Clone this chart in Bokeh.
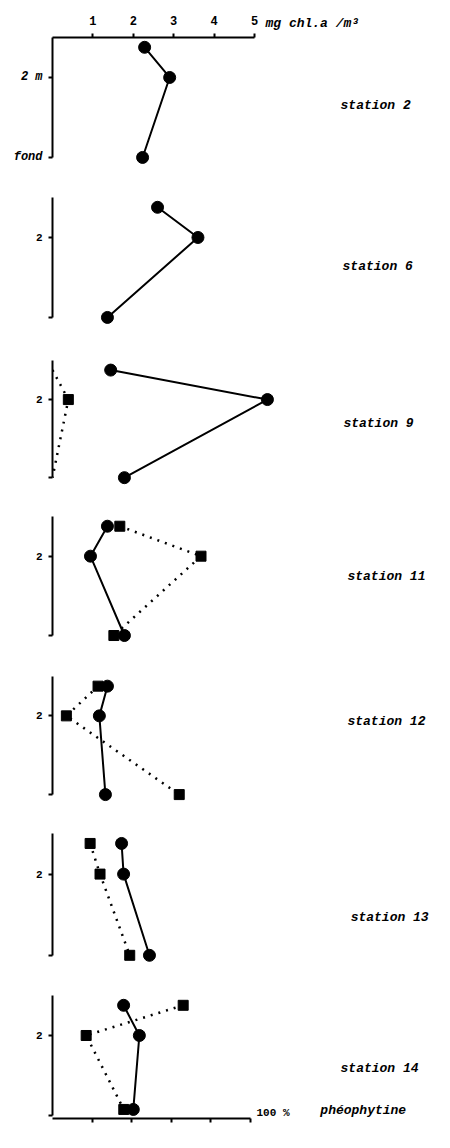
from bokeh.plotting import figure
from bokeh.models import LinearAxis, Range1d, FixedTicker, Label, Title
from bokeh.layouts import column
from bokeh.embed import file_html
from bokeh.resources import INLINE

# ---------------- data ----------------
station_names = ["station 2", "station 6", "station 9", "station 11",
                 "station 12", "station 13", "station 14"]
FOND = 7.3                      # depth of the bottom ("fond") on the depth scale, m
depth_std = [0.0, 2.0, FOND]    # surface, 2 m, fond
depth_st14 = [0.0, 2.0, 6.9]

# chlorophyll a (mg chl.a / m3) at surface, 2 m, bottom
chl_st2 = [2.28, 2.90, 2.23]
chl_st6 = [2.60, 3.60, 1.36]
chl_st9 = [1.44, 5.32, 1.78]
chl_st11 = [1.36, 0.94, 1.78]
chl_st12 = [1.36, 1.16, 1.31]
chl_st13 = [1.71, 1.76, 2.40]
chl_st14 = [1.76, 2.15, 2.00]

# pheophytine (%) at surface, 2 m, bottom
pheo_st9 = [0, 8, 0]
pheo_st11 = [34, 75, 31]
pheo_st12 = [23, 7, 64]
pheo_st13 = [19, 24, 39]
pheo_st14 = [66, 17, 36]

chl_ticks = [1, 2, 3, 4, 5]
pheo_ticks = [20, 40, 60, 80, 100]

panels = [
    (station_names[0], depth_std, chl_st2, None),
    (station_names[1], depth_std, chl_st6, None),
    (station_names[2], depth_std, chl_st9, pheo_st9),
    (station_names[3], depth_std, chl_st11, pheo_st11),
    (station_names[4], depth_std, chl_st12, pheo_st12),
    (station_names[5], depth_std, chl_st13, pheo_st13),
    (station_names[6], depth_st14, chl_st14, pheo_st14),
]

# ---------------- layout / style ----------------
BORDER_L = 52
FRAME_W = 390
W = BORDER_L + FRAME_W
PX_PER_MG = 40.4
PX_PER_PCT = 1.98
TOP_DEPTH = -0.65
fig_h = [168, 160, 160, 160, 160, 160, 168]
border_top = [37, 29, 32, 28, 28, 25, 27]
frame_h = [120, 120, 117, 119, 118, 122, 120]     # axis length (top -> fond)
below_fond = [0.6, 0.6, 0.6, 0.6, 0.6, 0.6, 0.2]  # frame room under fond, m
label_pos = [(7.13, 3.85), (7.18, 3.92), (7.20, 3.65), (7.30, 3.39),
             (7.30, 2.40), (7.38, 4.85), (7.13, 4.18)]
MONO = "Liberation Mono"
BLACK = "#000000"


def style_axis(a, size="11px", style="bold"):
    a.axis_line_width = 2
    a.axis_line_color = BLACK
    a.major_tick_in = 0
    a.major_tick_out = 4
    a.major_tick_line_width = 2
    a.major_tick_line_color = BLACK
    a.minor_tick_in = 0
    a.minor_tick_out = 0
    a.major_label_text_font = MONO
    a.major_label_text_font_style = style
    a.major_label_text_font_size = size
    a.major_label_text_color = BLACK


figs = []
for i, (name, depth, chl, pheo) in enumerate(panels):
    ppm = frame_h[i] / (FOND - TOP_DEPTH)
    fh = int(round(frame_h[i] + below_fond[i] * ppm))
    p = figure(width=W, height=fig_h[i],
               x_range=Range1d(0, FRAME_W / PX_PER_MG),
               y_range=Range1d(FOND + below_fond[i], TOP_DEPTH),
               x_axis_location=None, y_axis_location=None,
               output_backend="svg", toolbar_location=None,
               min_border_left=BORDER_L, min_border_right=0,
               min_border_top=border_top[i],
               min_border_bottom=fig_h[i] - border_top[i] - fh)
    p.extra_x_ranges = {"pheo": Range1d(0, FRAME_W / PX_PER_PCT)}
    p.outline_line_color = None
    p.grid.grid_line_color = None
    p.background_fill_color = "white"
    p.border_fill_color = "white"

    # left depth axis
    if i == 0:
        overrides = {2: "2 m", FOND: "fond"}
        lstyle = "bold italic"
    else:
        overrides = {2: "2", FOND: ""}
        lstyle = "bold"
    ax = LinearAxis(ticker=FixedTicker(ticks=[2, FOND]), bounds=(TOP_DEPTH, FOND),
                    major_label_overrides=overrides)
    style_axis(ax, "11px" if i else "12px", lstyle)
    ax.major_label_standoff = 6
    p.add_layout(ax, "left")

    # pheophytine (dotted, squares)
    if pheo is not None:
        p.line(pheo, depth, x_range_name="pheo", line_color=BLACK,
               line_width=2.5, line_dash="2 6")
        px = [v for v in pheo if v > 0]
        py = [d for v, d in zip(pheo, depth) if v > 0]
        p.scatter(px, py, x_range_name="pheo", marker="square", size=10,
                  fill_color=BLACK, line_color=BLACK)

    # chlorophyll a (solid, circles)
    p.line(chl, depth, line_color=BLACK, line_width=2)
    p.scatter(chl, depth, marker="circle", size=12,
              fill_color=BLACK, line_color=BLACK)

    lx, ly = label_pos[i]
    p.add_layout(Label(x=lx, y=ly, text=name, text_font=MONO,
                       text_font_style="bold italic", text_font_size="13px",
                       text_baseline="middle", text_align="left",
                       text_color=BLACK))

    if i == 0:
        top = LinearAxis(ticker=FixedTicker(ticks=chl_ticks), bounds=(0, 5))
        style_axis(top, "12px", "bold")
        top.major_label_standoff = 9
        p.add_layout(top, "above")
        p.add_layout(Title(text="mg chl.a /m\u00b3", align="left", offset=213,
                           standoff=-36, vertical_align="bottom",
                           text_font=MONO, text_font_style="bold italic",
                           text_font_size="13px", text_color=BLACK), "above")

    if i == len(panels) - 1:
        bot = LinearAxis(x_range_name="pheo", ticker=FixedTicker(ticks=pheo_ticks),
                         bounds=(0, 100),
                         major_label_overrides={t: "" for t in pheo_ticks})
        style_axis(bot, "1px", "normal")
        p.add_layout(bot, "below")
        p.add_layout(Label(x=5.05, y=7.15, text="100 %", text_font=MONO,
                           text_font_style="bold", text_font_size="11px",
                           text_baseline="middle", text_align="left",
                           text_color=BLACK))
        p.add_layout(Label(x=6.63, y=7.0, text="ph\u00e9ophytine", text_font=MONO,
                           text_font_style="bold italic", text_font_size="13px",
                           text_baseline="middle", text_align="left",
                           text_color=BLACK))
    figs.append(p)

layout = column(*figs, spacing=0)
open("out.html", "w").write(file_html(layout, INLINE))
